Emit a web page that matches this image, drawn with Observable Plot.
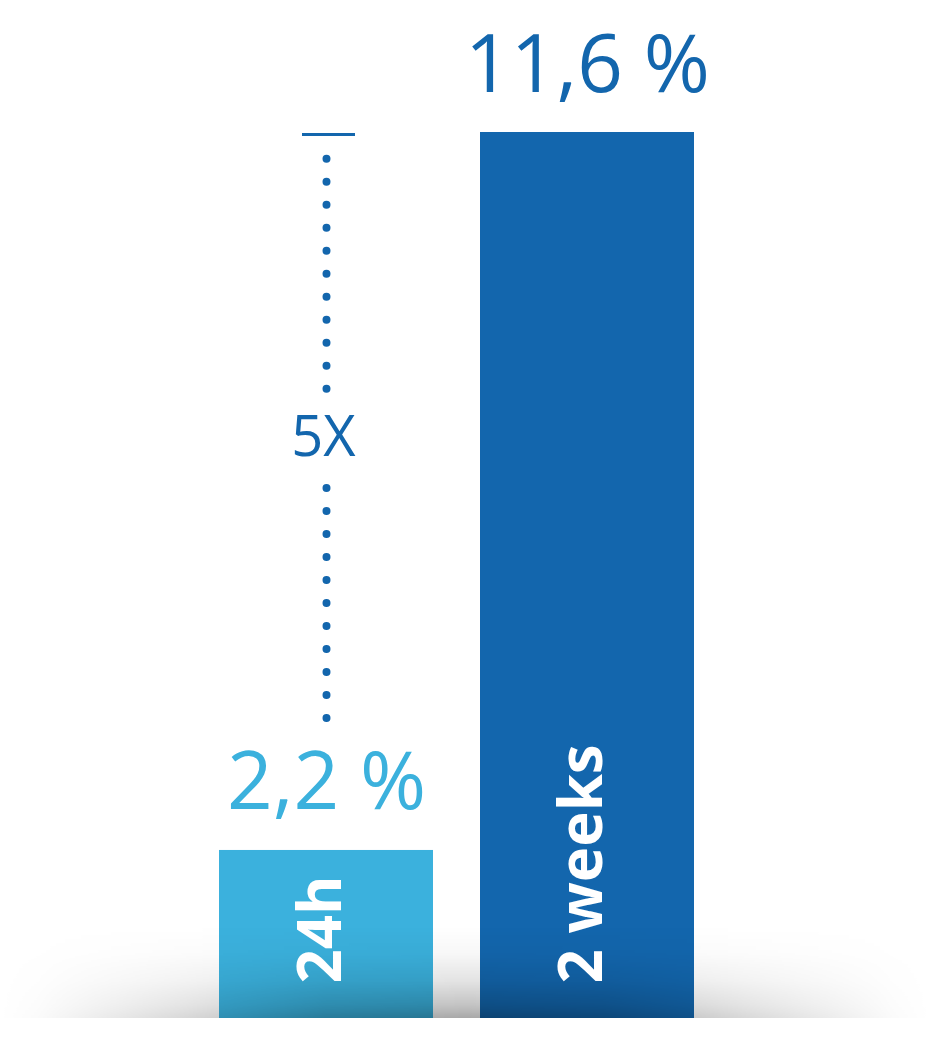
<!DOCTYPE html>
<html>
<head>
<meta charset="utf-8">
<script src="https://cdn.jsdelivr.net/npm/d3@7"></script>
<script src="https://cdn.jsdelivr.net/npm/@observablehq/plot@0.6"></script>
<style>
  html, body { margin: 0; padding: 0; background: #fff; }
  #chart svg { display: block; }
</style>
</head>
<body>
<div id="chart"></div>
<script>
// ---- data ----
const categories = ["24h", "2 weeks"];
const values = [2.2, 11.6];
const valueLabels = ["2,2 %", "11,6 %"];
const barColors = ["#3bb1dd", "#1366ad"];

// annotation (in data units)
const ratioLabel = "5X";
const ratioLabelY = 7.6;
const dotsUpper = [11.25, 8.22];
const dotsLower = [6.94, 3.91];

const data = categories.map((c, i) => ({cat: c, value: values[i], label: valueLabels[i]}));

const chart = Plot.plot({
  width: 930,
  height: 1050,
  marginTop: 132,
  marginBottom: 32,
  marginLeft: 0,
  marginRight: 0,
  style: {fontFamily: "'Open Sans', sans-serif", background: "#fff"},
  x: {domain: categories, range: [218, 695], paddingInner: 0.179, paddingOuter: 0, axis: null},
  y: {domain: [0, 11.6], axis: null},
  color: {domain: categories, range: barColors},
  marks: [
    Plot.barY(data, {x: "cat", y: "value", fill: "cat"}),
    Plot.rect([{}], {y1: () => 0, y2: () => 1.2, fill: "url(#shadowV)", ariaDescription: "shadow"}),
    Plot.text(data, {x: "cat", y: "value", text: "label", fill: "cat", fontSize: 80, lineAnchor: "bottom", dy: -41}),
    Plot.text(data, {x: "cat", y: () => 0, text: "cat", rotate: -90, textAnchor: "start", fill: "white",
      fontSize: 60, fontWeight: 700, dy: -35, dx: -5}),
    Plot.tickY([11.6], {x: () => "24h", y: d => d, stroke: barColors[1], strokeWidth: 3, insetLeft: 83, insetRight: 78, dy: 2}),
    Plot.ruleX([dotsUpper, dotsLower], {x: () => "24h", y1: d => d[0], y2: d => d[1], stroke: barColors[1],
      strokeWidth: 8, strokeLinecap: "round", strokeDasharray: "0 23"}),
    Plot.text([ratioLabel], {x: () => "24h", y: () => ratioLabelY, text: d => d, fill: barColors[1], fontSize: 56, dx: -3})
  ]
});

d3.select(chart).insert("defs", ":first-child").html(`
  <linearGradient id="shadowV" x1="0" y1="0" x2="0" y2="1">
    <stop offset="0" stop-color="#000" stop-opacity="0"/>
    <stop offset="0.3" stop-color="#000" stop-opacity="0.03"/>
    <stop offset="0.6" stop-color="#000" stop-opacity="0.11"/>
    <stop offset="0.85" stop-color="#000" stop-opacity="0.23"/>
    <stop offset="1" stop-color="#000" stop-opacity="0.34"/>
  </linearGradient>
  <linearGradient id="shadowH" x1="0" y1="0" x2="1" y2="0">
    <stop offset="0" stop-color="#fff" stop-opacity="0"/>
    <stop offset="0.04" stop-color="#fff" stop-opacity="0.05"/>
    <stop offset="0.2" stop-color="#fff" stop-opacity="0.45"/>
    <stop offset="0.35" stop-color="#fff" stop-opacity="0.88"/>
    <stop offset="0.5" stop-color="#fff" stop-opacity="1"/>
    <stop offset="0.65" stop-color="#fff" stop-opacity="0.88"/>
    <stop offset="0.8" stop-color="#fff" stop-opacity="0.45"/>
    <stop offset="0.96" stop-color="#fff" stop-opacity="0.05"/>
    <stop offset="1" stop-color="#fff" stop-opacity="0"/>
  </linearGradient>
  <mask id="shadowMask" maskContentUnits="objectBoundingBox">
    <rect x="0" y="0" width="1" height="1" fill="url(#shadowH)"/>
  </mask>
`);
d3.select(chart).select('g[aria-description="shadow"]').attr("mask", "url(#shadowMask)");

document.getElementById("chart").appendChild(chart);
</script>
</body>
</html>
